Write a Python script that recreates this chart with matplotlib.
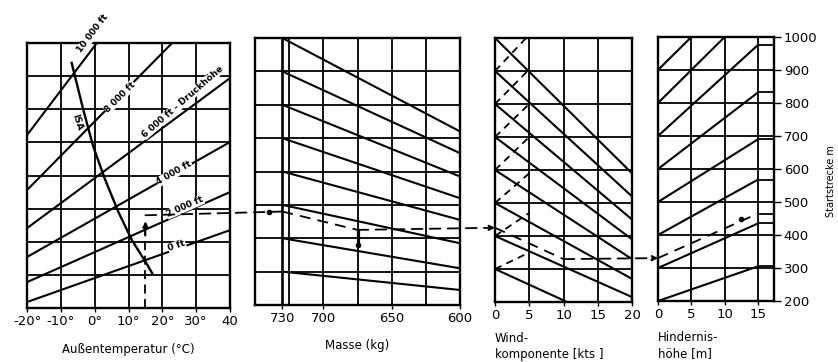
import matplotlib
matplotlib.use("Agg")
import matplotlib.pyplot as plt
from matplotlib.patches import ConnectionPatch

# ===================== Daten =====================
DIST_TICKS = [200, 300, 400, 500, 600, 700, 800, 900, 1000]

# Außentemperatur / Druckhöhe
TEMP_TICKS = [-20, -10, 0, 10, 20, 30, 40]
TEMP_TICK_LABELS = ["-20°", "-10°", "0°", "10°", "20°", "30°", "40"]
ALT_NAMES = ["10 000 ft", "8 000 ft", "6 000 ft - Druckhöhe", "4 000 ft", "2 000 ft", "0 ft"]
ALT_AT_M20 = [722, 556, 441, 354, 278, 218]
ALT_AT_40 = [1530, 1177, 894, 701, 550, 435]
ALT_LABEL_T = [-0.5, 7.5, 26.0, 23.5, 26.7, 24.3]
ALT_LABEL_D = [1028, 837, 822, 607, 505, 387]
ALT_LABEL_ROT = [53, 45, 41, 30, 24, 19]
ISA_TEMP = [-6.8, -3.4, -0.5, 3, 7, 11, 15, 17]
ISA_DIST = [940, 800, 690, 590, 490, 405, 340, 305]

# Masse
MASS_TICKS = [730, 700, 650, 600]
MASS_GRID = [725, 700, 675, 650, 625]
MASS_REF = 730
MASS_START = [1000, 900, 800, 700, 600, 500, 400, 300]
MASS_END = [720, 655, 585, 520, 455, 385, 310, 245]

# Windkomponente
WIND_TICKS = [0, 5, 10, 15, 20]
WIND_START = [1000, 900, 800, 700, 600, 500, 400, 300]
WIND_END = [590, 520, 450, 390, 330, 270, 215, 110]
TAIL_START = [900, 800, 700, 600, 500, 400, 300]
TAIL_END = [1010, 905, 800, 700, 590, 470, 350]

# Hindernishöhe
OBST_TICKS = [0, 5, 10, 15]
OBST_START = [200, 300, 400, 500, 600, 700, 800, 900]
OBST_END = [305, 435, 568, 690, 832, 976, 1100, 1200]

# Beispiel (gestrichelte Leitlinie)
EX_TEMP = 15
EX_D1 = 480
EX_MASS = 675
EX_D2 = 425
EX_MASS_DOT = 380
EX_WIND = 10
EX_D3 = 330
EX_D4 = 465
EX_OBST_DOT = 12.5
EX_OBST_DOT_D = 450

LW = 1.3
plt.rcParams["font.family"] = ["DejaVu Sans"]

fig = plt.figure(figsize=(8.38, 3.62), dpi=100)


def panel(x0, x1, y0, y1):
    ax = fig.add_axes([x0 / 838, 1 - y1 / 362, (x1 - x0) / 838, (y1 - y0) / 362])
    ax.set_ylim(200, 1000)
    ax.set_yticks([])
    for s in ax.spines.values():
        s.set_linewidth(1.7)
    ax.tick_params(axis="x", length=3, width=1, labelsize=9.5, pad=2)
    for d in DIST_TICKS[1:-1]:
        ax.axhline(d, color="black", lw=LW, zorder=1)
    return ax


# ===================== Panel 1: Temperatur =====================
ax1 = panel(27, 230, 43, 308)
ax1.set_xlim(-20, 40)
ax1.set_xticks(TEMP_TICKS)
ax1.set_xticklabels(TEMP_TICK_LABELS)
for t in TEMP_TICKS[1:-1]:
    ax1.axvline(t, color="black", lw=LW, zorder=1)
for name, d0, d1, lt, ld, rot in zip(ALT_NAMES, ALT_AT_M20, ALT_AT_40, ALT_LABEL_T, ALT_LABEL_D, ALT_LABEL_ROT):
    ax1.plot([-20, 40], [d0, d1], color="black", lw=LW + 0.2, zorder=2)
    ax1.text(lt, ld, name, rotation=rot, rotation_mode="anchor", ha="center", va="center",
             fontsize=6.5, fontweight="bold", zorder=4, clip_on=False,
             bbox=dict(facecolor="white", edgecolor="none", pad=0.3))
ax1.plot(ISA_TEMP, ISA_DIST, color="black", lw=LW + 0.4, zorder=3)
ax1.text(-5.2, 760, "ISA", rotation=-72, rotation_mode="anchor", ha="center", va="center",
         fontsize=6.5, fontweight="bold", zorder=4)
ax1.plot([EX_TEMP, EX_TEMP], [200, EX_D1 - 40], color="black", lw=LW, ls=(0, (5, 3)), zorder=3)
ax1.annotate("", xy=(EX_TEMP, EX_D1 - 10), xytext=(EX_TEMP, EX_D1 - 70),
             arrowprops=dict(arrowstyle="-|>", color="black", lw=LW, mutation_scale=8))
ax1.set_xlabel("Außentemperatur (°C)", fontsize=8.5, labelpad=11)

# ===================== Panel 2: Masse =====================
ax2 = panel(255, 460, 38, 305)
ax2.set_xlim(750, 600)
ax2.set_xticks(MASS_TICKS)
for m in MASS_GRID:
    ax2.axvline(m, color="black", lw=LW, zorder=1)
ax2.axvline(MASS_REF, color="black", lw=LW + 0.6, zorder=1)
for d0, d1 in zip(MASS_START, MASS_END):
    ax2.plot([MASS_REF, 600], [d0, d1], color="black", lw=LW + 0.2, zorder=2)
ax2.plot([MASS_REF, EX_MASS], [EX_D1, EX_D2], color="black", lw=LW, ls=(0, (6, 4)), zorder=3)
ax2.plot([740], [EX_D1], "o", color="black", ms=3, zorder=4)
ax2.plot([EX_MASS, EX_MASS], [EX_D2, EX_MASS_DOT], color="black", lw=LW + 1, zorder=3)
ax2.plot([EX_MASS], [EX_MASS_DOT], "o", color="black", ms=3, zorder=4)
ax2.set_xlabel("Masse (kg)", fontsize=8.5, labelpad=10)

# ===================== Panel 3: Wind =====================
ax3 = panel(495, 632, 38, 302)
ax3.set_xlim(0, 20)
ax3.set_xticks(WIND_TICKS)
for w in WIND_TICKS[1:-1]:
    ax3.axvline(w, color="black", lw=LW, zorder=1)
for d0, d1 in zip(WIND_START, WIND_END):
    ax3.plot([0, 20], [d0, d1], color="black", lw=LW + 0.2, zorder=2)
for d0, d1 in zip(TAIL_START, TAIL_END):
    ax3.plot([0, 5], [d0, d1], color="black", lw=LW, ls=(0, (4, 3)), zorder=2)
ax3.plot([0, EX_WIND], [EX_D2, EX_D3], color="black", lw=LW, ls=(0, (6, 4)), zorder=3)
ax3.set_xlabel("Wind-\nkomponente [kts ]", fontsize=8.5, labelpad=7, loc="left", linespacing=1.3)

# ===================== Panel 4: Hindernishöhe =====================
ax4 = panel(658, 774, 37, 301)
ax4.set_xlim(0, 17.4)
ax4.set_xticks(OBST_TICKS)
for h in OBST_TICKS[1:]:
    ax4.axvline(h, color="black", lw=LW, zorder=1)
for d0, d1 in zip(OBST_START, OBST_END):
    ax4.plot([0, 15], [d0, d1], color="black", lw=LW + 0.2, zorder=2)
    if d1 <= 1000:
        ax4.plot([15, 17.4], [d1, d1], color="black", lw=LW, zorder=2)
ax4.plot([0, 15], [EX_D3, EX_D4], color="black", lw=LW, ls=(0, (6, 4)), zorder=3)
ax4.plot([15, 17.4], [EX_D4, EX_D4], color="black", lw=LW, zorder=3)
ax4.plot([EX_OBST_DOT], [EX_OBST_DOT_D], "o", color="black", ms=3, zorder=4)
ax4.yaxis.tick_right()
ax4.set_yticks(DIST_TICKS)
ax4.tick_params(axis="y", right=True, length=5, width=1, labelsize=9.5, pad=2)
ax4.set_xlabel("Hindernis-\nhöhe [m]", fontsize=8.5, labelpad=7, loc="left", linespacing=1.3)
fig.text(0.992, 0.5, "Startstrecke m", rotation=90, ha="center", va="center", fontsize=7)

# ===================== Verbindungen zwischen den Feldern =====================
dash = dict(color="black", lw=LW, ls=(0, (6, 4)), zorder=5)
fig.add_artist(ConnectionPatch((EX_TEMP, EX_D1), (MASS_REF, EX_D1), "data", "data",
                               axesA=ax1, axesB=ax2, **dash))
fig.add_artist(ConnectionPatch((EX_MASS, EX_D2), (0, EX_D2), "data", "data",
                               axesA=ax2, axesB=ax3, arrowstyle="-|>", mutation_scale=8, **dash))
fig.add_artist(ConnectionPatch((EX_WIND, EX_D3), (0, EX_D3), "data", "data",
                               axesA=ax3, axesB=ax4, arrowstyle="-|>", mutation_scale=8, **dash))

fig.savefig("out.png", dpi=100)
